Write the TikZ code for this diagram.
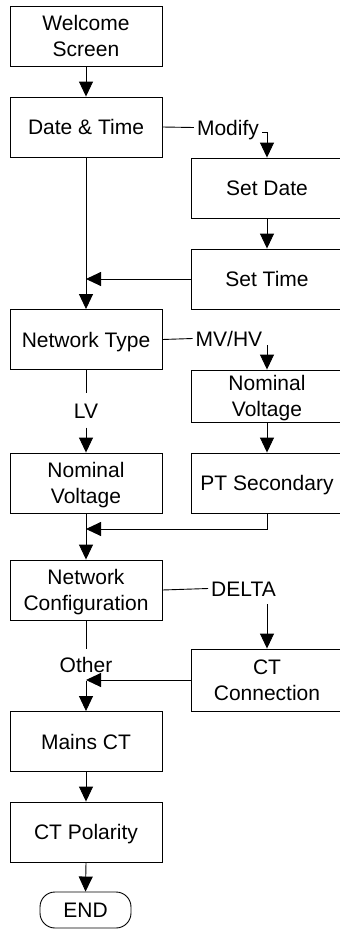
\documentclass[tikz,border=0pt]{standalone}
\usepackage{fontspec}
\setmainfont{Liberation Sans}
\usetikzlibrary{arrows.meta}
\begin{document}
\begin{tikzpicture}[x=1pt,y=-1pt,
  every node/.style={font=\fontsize{21}{26.5}\selectfont, inner sep=0pt},
  box/.style={draw, line width=0.9pt, minimum width=152pt, minimum height=60pt, align=center},
  one/.style={text height=15pt, text depth=0pt},
  two/.style={text height=41.5pt, text depth=0pt},
  lab/.style={one, inner xsep=3pt},
  conn/.style={line width=0.9pt},
  arr/.style={conn, -{Triangle[length=15pt,width=14pt]}},
]
\useasboundingbox (0,0) rectangle (340,929);
\clip (0,0) rectangle (340,929);

% boxes
\node[box,two] (W) at (86,36) {Welcome\\Screen};
\node[box,one] (DT) at (86,127) {Date \& Time};
\node[box,one] (SD) at (267,188) {Set Date};
\node[box,one] (ST) at (267,279) {Set Time};
\node[box,one] (NT) at (86,339.5) {Network Type};
\node[box,two,minimum height=52pt] (NVr) at (267,396) {Nominal\\Voltage};
\node[box,one] (PT) at (267,483) {PT Secondary};
\node[box,two] (NVl) at (86,483) {Nominal\\Voltage};
\node[box,two] (NC) at (86,590) {Network\\Configuration};
\node[box,two,minimum height=62pt] (CTC) at (267,680) {CT\\Connection};
\node[box,one] (MCT) at (86,741.5) {Mains CT};
\node[box,one] (CTP) at (86,832) {CT Polarity};
\node[draw, line width=0.9pt, one, rounded corners=15pt, minimum width=91pt, minimum height=36pt] (END) at (85.5,910) {END};

% labels
\node[lab] (MOD) at (228,127.5) {Modify};
\node[lab] (MV) at (229,338.5) {MV/HV};
\node[one, minimum height=34pt] (LV) at (86,410.5) {LV};
\node[lab] (DEL) at (243.5,588.5) {DELTA};
\node[one, minimum height=32pt] (OTH) at (86,665) {Other};

\coordinate (mh) at (262,132);
\coordinate (mvh) at (267,345);
\coordinate (dh) at (267,604);
\coordinate (pj) at (86,529);

% connectors
\draw[arr] (W.south) -- (DT.north);
\draw[conn] (DT.east) -- (MOD.west);
\draw[arr] (mh) -| (SD.north);
\draw[arr] (SD.south) -- (ST.north);
\draw[arr] (DT.south) -- (NT.north);
\draw[arr] (ST.west) -- (ST.west -| DT.south);
\draw[conn] (NT.east) -- (MV.west);
\draw[arr] (mvh) -- (NVr.north);
\draw[arr] (NVr.south) -- (PT.north);
\draw[conn] (NT.south) -- (LV.north);
\draw[arr] (LV.south) -- (NVl.north);
\draw[arr] (PT.south) |- (pj);
\draw[arr] (NVl.south) -- (NC.north);
\draw[conn] (NC.east) -- (DEL.west);
\draw[arr] (dh) -- (CTC.north);
\draw[conn] (NC.south) -- (OTH.north);
\draw[arr] (CTC.west) -- (CTC.west -| OTH.south);
\draw[arr] (OTH.south) -- (MCT.north);
\draw[arr] (MCT.south) -- (CTP.north);
\draw[arr] (CTP.south) -- (END.north);
\end{tikzpicture}
\end{document}
